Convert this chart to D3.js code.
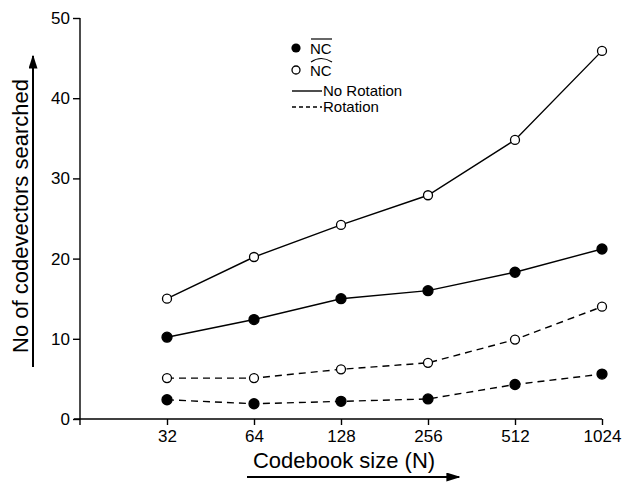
<!DOCTYPE html>
<html>
<head>
<meta charset="utf-8">
<script src="https://d3js.org/d3.v7.min.js"></script>
<style>
  body { margin: 0; background: #fff; }
  text { font-family: "Liberation Sans", Arial, sans-serif; fill: #000; }
</style>
</head>
<body>
<script>
// codebook sizes
var sizes = [32, 64, 128, 256, 512, 1024];
// series values
var ncBarNoRot  = [10.2, 12.4, 15.0, 16.0, 18.3, 21.2];
var ncHatNoRot  = [15.0, 20.2, 24.2, 27.9, 34.8, 45.9];
var ncBarRot    = [2.4, 1.9, 2.2, 2.5, 4.3, 5.6];
var ncHatRot    = [5.1, 5.1, 6.2, 7.0, 9.9, 14.0];
var yTicks = [0, 10, 20, 30, 40, 50];

var w = 626, h = 482;
var svg = d3.select("body").append("svg").attr("width", w).attr("height", h);

var x = d3.scaleLog().base(2).domain([16, 1024]).range([80, 602]);
var y = d3.scaleLinear().domain([0, 50]).range([419, 18]);

var series = [
  {vals: ncHatNoRot, filled: false, dash: null},
  {vals: ncBarNoRot, filled: true,  dash: null},
  {vals: ncHatRot,   filled: false, dash: "7,5"},
  {vals: ncBarRot,   filled: true,  dash: "7,5"}
];

var line = d3.line().x(function(d){ return x(d[0]); }).y(function(d){ return y(d[1]); });

series.forEach(function(s){
  var pts = sizes.map(function(n, i){ return [n, s.vals[i]]; });
  svg.append("path")
     .attr("d", line(pts))
     .attr("fill", "none")
     .attr("stroke", "#000")
     .attr("stroke-width", 1.4)
     .attr("stroke-dasharray", s.dash);
  svg.selectAll(null).data(pts).enter().append("circle")
     .attr("cx", function(d){ return x(d[0]); })
     .attr("cy", function(d){ return y(d[1]); })
     .attr("r", s.filled ? 5 : 4.5)
     .attr("fill", s.filled ? "#000" : "#fff")
     .attr("stroke", "#000")
     .attr("stroke-width", 1.3);
});

// axes
var yAxis = d3.axisLeft(y).tickValues(yTicks).tickSize(7).tickSizeOuter(0);
var gy = svg.append("g").attr("transform", "translate(80,0)").call(yAxis);
gy.select(".domain").remove();
svg.append("line").attr("x1", 80).attr("x2", 80).attr("y1", 18).attr("y2", 425)
   .attr("stroke", "#000").attr("stroke-width", 1.4);
gy.selectAll("line").attr("stroke-width", 1.4);
gy.selectAll("text").style("font-size", "17px").attr("x", -10);

var xAxis = d3.axisBottom(x).tickValues(sizes).tickFormat(d3.format("d")).tickSize(6).tickSizeOuter(0);
var gx = svg.append("g").attr("transform", "translate(0,419)").call(xAxis);
gx.select(".domain").remove();
svg.append("line").attr("x1", 74).attr("x2", 602).attr("y1", 419).attr("y2", 419)
   .attr("stroke", "#000").attr("stroke-width", 1.4);
gx.selectAll("line").attr("stroke-width", 1.4);
gx.selectAll("text").style("font-size", "17px").attr("y", 11);

// arrows
var defs = svg.append("defs");
defs.append("marker").attr("id", "arr").attr("viewBox", "0 0 10 10")
    .attr("refX", 9).attr("refY", 5).attr("markerWidth", 14).attr("markerHeight", 9)
    .attr("markerUnits", "userSpaceOnUse").attr("orient", "auto")
    .attr("preserveAspectRatio", "none")
    .append("path").attr("d", "M0,0 L10,5 L0,10 z").attr("fill", "#000");

svg.append("text").attr("x", 344).attr("y", 468).attr("text-anchor", "middle")
   .style("font-size", "22px").text("Codebook size (N)");
svg.append("line").attr("x1", 247).attr("x2", 459).attr("y1", 477).attr("y2", 477)
   .attr("stroke", "#000").attr("stroke-width", 2).attr("marker-end", "url(#arr)");

svg.append("text").attr("transform", "translate(28,216) rotate(-90)").attr("text-anchor", "middle")
   .style("font-size", "22px").text("No of codevectors searched");
svg.append("line").attr("x1", 33).attr("x2", 33).attr("y1", 367).attr("y2", 56)
   .attr("stroke", "#000").attr("stroke-width", 2).attr("marker-end", "url(#arr)");

// legend
var lg = svg.append("g");
lg.append("circle").attr("cx", 296).attr("cy", 48).attr("r", 4.6).attr("fill", "#000");
lg.append("circle").attr("cx", 296).attr("cy", 70).attr("r", 4).attr("fill", "#fff")
  .attr("stroke", "#000").attr("stroke-width", 1.3);
lg.append("text").attr("x", 310).attr("y", 54).style("font-size", "15px").text("NC");
lg.append("line").attr("x1", 311).attr("x2", 332).attr("y1", 39).attr("y2", 39)
  .attr("stroke", "#000").attr("stroke-width", 1.2);
lg.append("text").attr("x", 310).attr("y", 76).style("font-size", "15px").text("NC");
lg.append("path").attr("d", "M311,62 Q321,55 332,62").attr("fill", "none")
  .attr("stroke", "#000").attr("stroke-width", 1.2);
lg.append("line").attr("x1", 292).attr("x2", 322).attr("y1", 91).attr("y2", 91)
  .attr("stroke", "#000").attr("stroke-width", 1.4);
lg.append("text").attr("x", 323).attr("y", 96).style("font-size", "15px").text("No Rotation");
lg.append("line").attr("x1", 292).attr("x2", 322).attr("y1", 107).attr("y2", 107)
  .attr("stroke", "#000").attr("stroke-width", 1.4).attr("stroke-dasharray", "4,3");
lg.append("text").attr("x", 323).attr("y", 112).style("font-size", "15px").text("Rotation");
</script>
</body>
</html>
